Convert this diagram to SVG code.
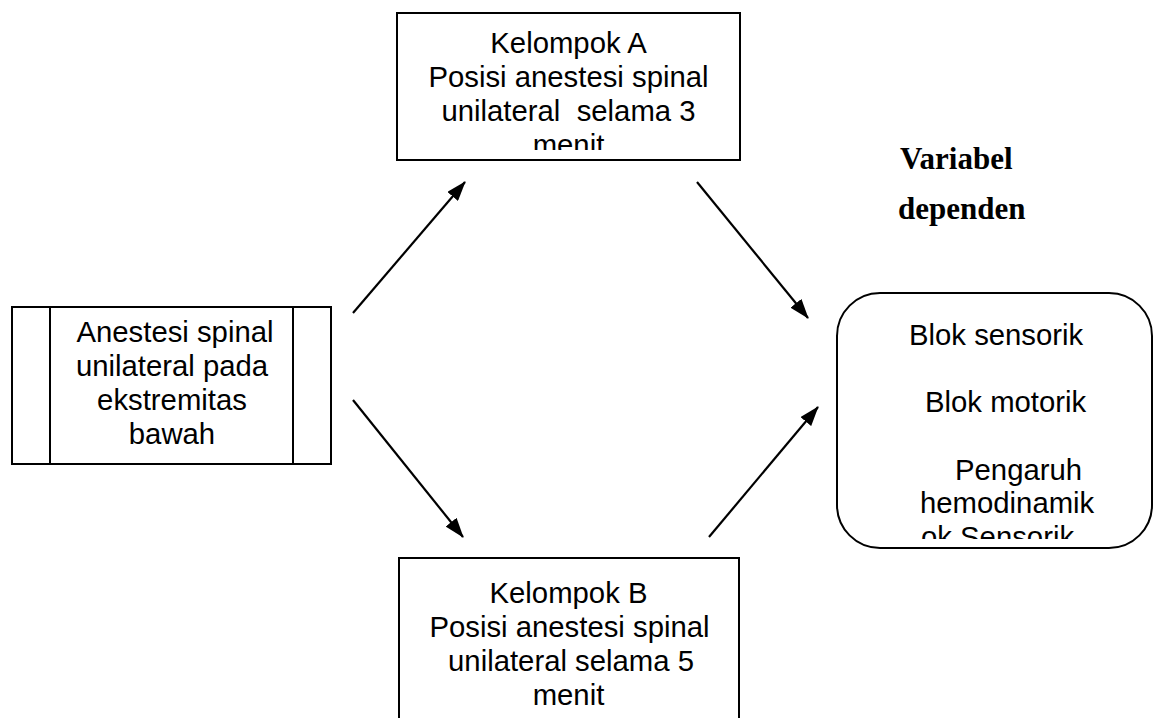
<svg xmlns="http://www.w3.org/2000/svg" width="1155" height="718" viewBox="0 0 1155 718">
  <style>
    .box { fill: #ffffff; stroke: #000000; stroke-width: 2; }
    .t { font-family: "Liberation Sans", Arial, sans-serif; font-size: 29.3px; fill: #000000; white-space: pre; }
    .c { text-anchor: middle; }
    .hdr { font-family: "Liberation Serif", "Times New Roman", serif; font-size: 31px; font-weight: bold; fill: #000000; }
    .conn { stroke: #000000; stroke-width: 2.2; fill: none; marker-end: url(#arrow); }
  </style>
  <defs>
    <marker id="arrow" viewBox="0 0 20 14" refX="19" refY="7" markerWidth="20" markerHeight="14" markerUnits="userSpaceOnUse" orient="auto">
      <path d="M0,0 L20,7 L0,14 Z" fill="#000000"/>
    </marker>
    <clipPath id="clipA"><rect x="397" y="13" width="343" height="137"/></clipPath>
    <clipPath id="clipR"><rect x="837" y="293" width="315" height="246"/></clipPath>
  </defs>
  <rect width="1155" height="718" fill="#ffffff"/>

  <g id="node-source">
    <rect class="box" x="12" y="307" width="319" height="157"/>
    <line x1="50" y1="307" x2="50" y2="464" stroke="#000" stroke-width="2"/>
    <line x1="293" y1="307" x2="293" y2="464" stroke="#000" stroke-width="2"/>
    <text class="t c" x="175" y="342">Anestesi spinal</text>
    <text class="t c" x="172" y="376">unilateral pada</text>
    <text class="t c" x="172" y="410">ekstremitas</text>
    <text class="t c" x="172" y="444">bawah</text>
  </g>

  <g id="node-kelompok-a">
    <rect class="box" x="397" y="13" width="343" height="147"/>
    <g clip-path="url(#clipA)">
      <text class="t c" x="568.5" y="53">Kelompok A</text>
      <text class="t c" x="568.5" y="87">Posisi anestesi spinal</text>
      <text class="t c" x="568.5" y="121" xml:space="preserve">unilateral  selama 3</text>
      <text class="t c" x="568.5" y="155">menit</text>
    </g>
  </g>

  <g id="node-kelompok-b">
    <rect class="box" x="399" y="558" width="340" height="200"/>
    <text class="t c" x="568.5" y="603">Kelompok B</text>
    <text class="t c" x="569.5" y="637">Posisi anestesi spinal</text>
    <text class="t c" x="571" y="671">unilateral selama 5</text>
    <text class="t c" x="568.5" y="705">menit</text>
  </g>

  <g id="label-variabel">
    <text class="hdr" x="900" y="169">Variabel</text>
    <text class="hdr" x="898" y="219">dependen</text>
  </g>

  <g id="node-dependen">
    <rect class="box" x="837" y="293" width="315" height="255" rx="43" ry="43"/>
    <g clip-path="url(#clipR)">
      <text class="t" x="909" y="345">Blok sensorik</text>
      <text class="t" x="925" y="412">Blok motorik</text>
      <text class="t" x="955" y="480">Pengaruh</text>
      <text class="t" x="920" y="513">hemodinamik</text>
      <text class="t" x="921" y="547">ok Sensorik</text>
    </g>
  </g>

  <g id="connectors">
    <line class="conn" x1="353" y1="313" x2="465" y2="182"/>
    <line class="conn" x1="697" y1="182" x2="808" y2="318"/>
    <line class="conn" x1="353" y1="400" x2="463" y2="537"/>
    <line class="conn" x1="709" y1="537" x2="818" y2="407"/>
  </g>
</svg>
